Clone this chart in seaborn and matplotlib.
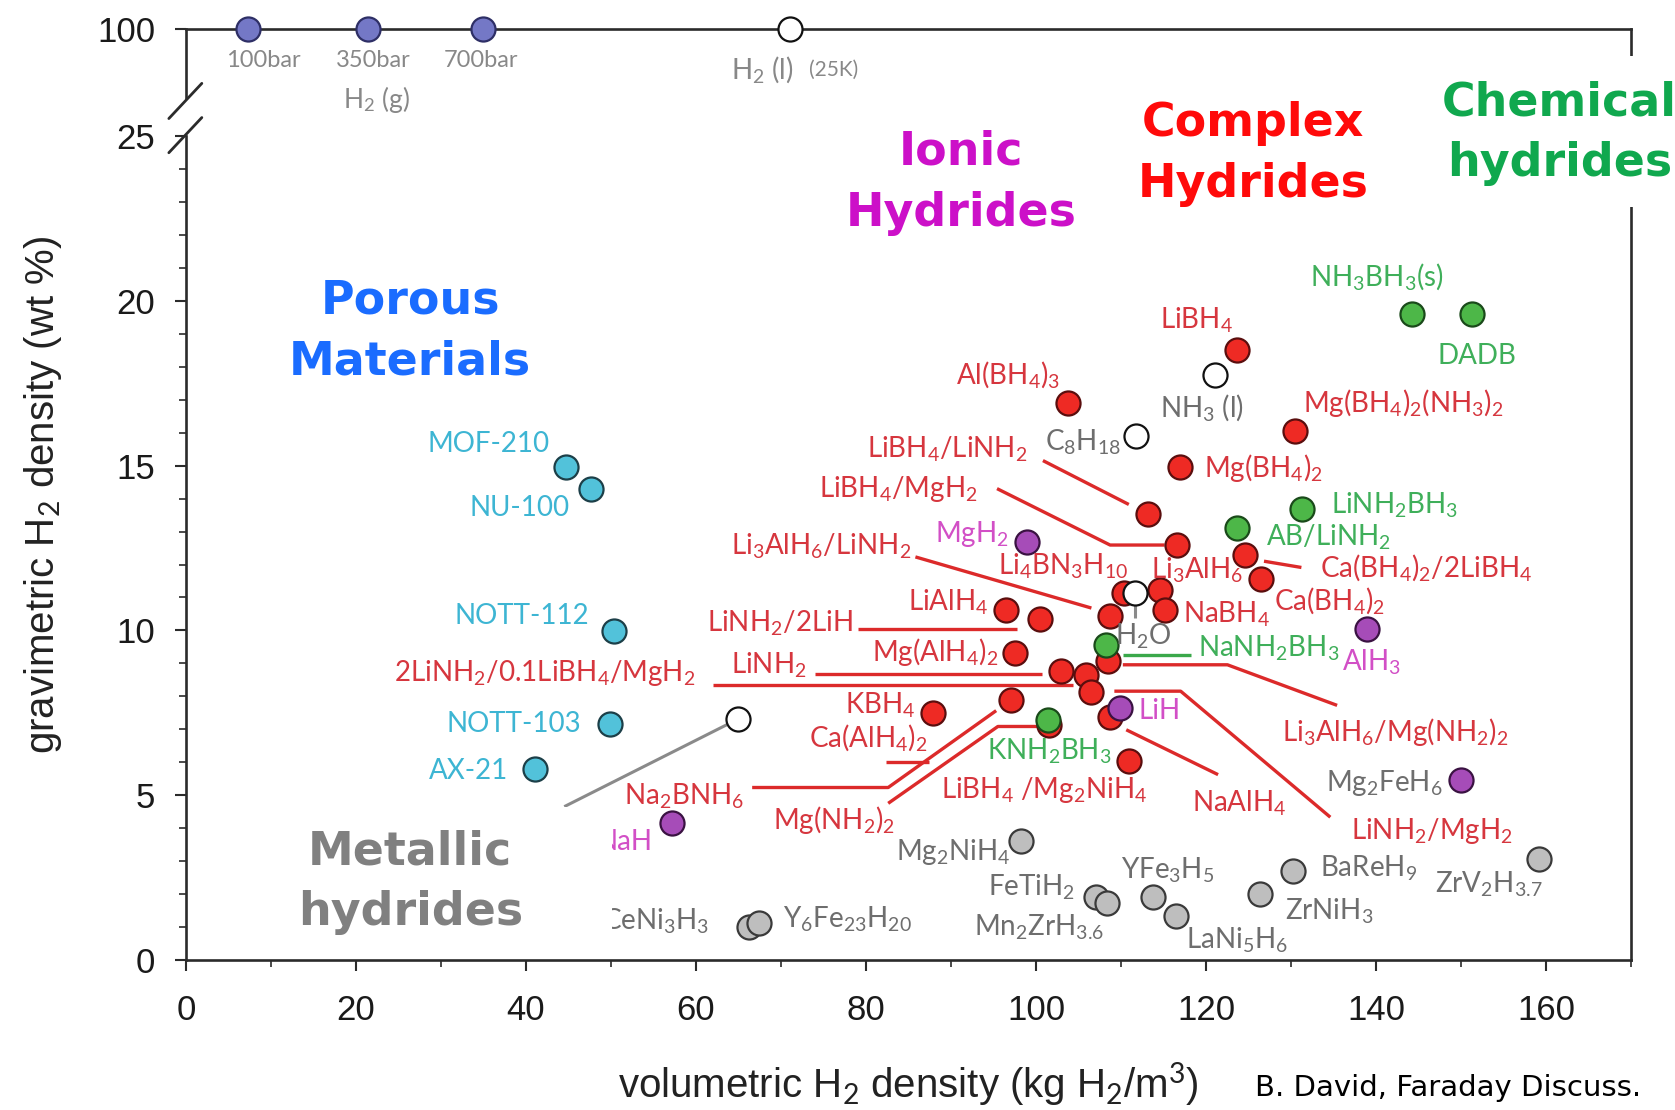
import numpy as np
import pandas as pd
import matplotlib
matplotlib.use("Agg")
import matplotlib.pyplot as plt
from matplotlib.lines import Line2D
from matplotlib.patches import Rectangle
import seaborn as sns

# ------------------------------------------------------------------
# Data: volumetric H2 density (kg H2/m^3) vs gravimetric density (wt %)
# ------------------------------------------------------------------
gas_names = ["100bar", "350bar", "700bar"]
gas_x = [7.3, 21.4, 34.9]
gas_y = [100, 100, 100]

liquid_h2_x = [71.0]
liquid_h2_y = [100]

porous_names = ["MOF-210", "NU-100", "NOTT-112", "NOTT-103", "AX-21"]
porous_x = [44.7, 47.6, 50.3, 49.9, 41.0]
porous_y = [14.95, 14.3, 9.97, 7.18, 5.79]

ionic_names = [r"MgH$_2$", r"AlH$_3$", "LiH", r"Mg$_2$FeH$_6$", "NaH"]
ionic_x = [98.9, 138.9, 109.9, 150.0, 57.2]
ionic_y = [12.69, 10.06, 7.64, 5.47, 4.17]

chemical_names = [r"NH$_3$BH$_3$(s)", "DADB", r"LiNH$_2$BH$_3$", r"AB/LiNH$_2$",
                  r"NaNH$_2$BH$_3$", r"KNH$_2$BH$_3$"]
chemical_x = [144.2, 151.3, 131.3, 123.6, 108.2, 101.4]
chemical_y = [19.58, 19.58, 13.69, 13.1, 9.55, 7.28]

complex_names = [r"LiBH$_4$", r"Al(BH$_4$)$_3$", r"Mg(BH$_4$)$_2$(NH$_3$)$_2$",
                 r"Mg(BH$_4$)$_2$", r"LiBH$_4$/LiNH$_2$", r"LiBH$_4$/MgH$_2$",
                 r"Ca(BH$_4$)$_2$/2LiBH$_4$", r"Ca(BH$_4$)$_2$", r"Li$_4$BN$_3$H$_{10}$",
                 r"Li$_3$AlH$_6$", r"NaBH$_4$", r"Li$_3$AlH$_6$/LiNH$_2$", r"LiAlH$_4$",
                 r"LiNH$_2$/2LiH", r"Mg(AlH$_4$)$_2$", r"Li$_3$AlH$_6$/Mg(NH$_2$)$_2$",
                 r"LiNH$_2$", r"2LiNH$_2$/0.1LiBH$_4$/MgH$_2$", r"LiNH$_2$/MgH$_2$",
                 r"Na$_2$BNH$_6$", r"KBH$_4$", r"NaAlH$_4$", r"Mg(NH$_2$)$_2$",
                 r"LiBH$_4$ /Mg$_2$NiH$_4$"]
complex_x = [123.6, 103.8, 130.5, 116.9, 113.2, 116.6, 124.6, 126.5, 110.3,
             114.6, 115.1, 108.7, 96.4, 100.4, 97.5, 108.4, 102.9, 105.9,
             106.5, 97.0, 87.9, 108.7, 101.5, 110.9]
complex_y = [18.5, 16.9, 16.05, 14.95, 13.53, 12.59, 12.3, 11.55, 11.13,
             11.23, 10.61, 10.45, 10.61, 10.36, 9.32, 9.09, 8.77, 8.64,
             8.12, 7.9, 7.5, 7.38, 7.12, 6.05]

metallic_names = [r"Mg$_2$NiH$_4$", r"FeTiH$_2$", r"Mn$_2$ZrH$_{3.6}$", r"YFe$_3$H$_5$",
                  r"LaNi$_5$H$_6$", r"ZrNiH$_3$", r"BaReH$_9$", r"ZrV$_2$H$_{3.7}$",
                  r"CeNi$_3$H$_3$", r"Y$_6$Fe$_{23}$H$_{20}$"]
metallic_x = [98.2, 107.0, 108.3, 113.8, 116.5, 126.3, 130.2, 159.1, 66.2, 67.4]
metallic_y = [3.62, 1.91, 1.75, 1.91, 1.36, 2.0, 2.72, 3.07, 1.0, 1.13]

liquid_names = [r"NH$_3$ (l)", r"C$_8$H$_{18}$", r"H$_2$O", ""]
liquid_x = [121.0, 111.7, 111.6, 64.9]
liquid_y = [17.73, 15.89, 11.13, 7.31]

x_ticks = [0, 20, 40, 60, 80, 100, 120, 140, 160]
y_ticks = [0, 5, 10, 15, 20, 25]

# ------------------------------------------------------------------
# Layout: label anchors (data coords, text centre) and leader lines
# ------------------------------------------------------------------
porous_label_xy = [(35.6, 15.66), (39.3, 13.72), (39.5, 10.45), (38.6, 7.18), (33.3, 5.73)]
ionic_label_xy = [(92.5, 12.91), (139.4, 9.03), (114.5, 7.57), (140.9, 5.37), (51.6, 3.59)]
chemical_label_xy = [(140.1, 20.74), (151.8, 18.32), (142.2, 13.79), (134.4, 12.82),
                     (127.3, 9.45), (101.6, 6.34)]
complex_label_xy = [(118.9, 19.39), (96.7, 17.77), (143.2, 16.89), (126.7, 14.92),
                    (89.6, 15.5), (83.8, 14.3), (145.9, 11.91), (134.5, 10.91),
                    (103.2, 11.94), (118.9, 11.84), (122.4, 10.49), (74.7, 12.56),
                    (89.7, 10.87), (69.9, 10.23), (88.1, 9.35), (142.2, 6.93),
                    (68.6, 8.96), (42.2, 8.71), (146.6, 3.92), (58.6, 4.98),
                    (81.7, 7.73), (123.9, 4.76), (76.2, 4.24), (100.9, 5.15)]
metallic_label_xy = [(90.2, 3.30), (99.5, 2.23), (100.3, 1.0), (115.5, 2.72),
                     (123.6, 0.61), (134.5, 1.49), (139.1, 2.78), (153.3, 2.30),
                     (55.2, 1.20), (77.8, 1.26)]
liquid_label_xy = [(119.5, 16.76), (105.5, 15.70), (112.6, 9.84), (0, 0)]

red_leaders = [
    [(100.8, 15.15), (110.9, 13.82)],
    [(95.4, 14.3), (108.7, 12.59), (115.1, 12.59)],
    [(85.8, 12.23), (106.5, 10.68)],
    [(79.1, 10.03), (97.8, 10.03)],
    [(74.0, 8.67), (100.7, 8.67)],
    [(62.0, 8.35), (104.3, 8.35)],
    [(66.6, 5.24), (82.6, 5.24), (95.3, 7.57)],
    [(82.6, 4.76), (95.5, 7.09), (100.1, 7.09)],
    [(82.3, 6.02), (87.4, 6.02)],
    [(126.8, 12.1), (131.2, 11.91)],
    [(110.2, 8.96), (122.5, 8.96), (135.4, 7.73)],
    [(109.2, 8.16), (117.0, 8.16), (134.6, 4.34)],
    [(110.6, 6.99), (121.4, 5.63)],
]
green_leaders = [[(110.2, 9.26), (118.2, 9.26)]]
gray_leaders = [[(111.6, 10.81), (111.6, 10.39)], [(64.9, 7.31), (44.5, 4.66)]]

# ------------------------------------------------------------------
sns.set_theme(style="ticks")
plt.rcParams["font.family"] = ["Liberation Sans", "DejaVu Sans"]
plt.rcParams["mathtext.fontset"] = "custom"
plt.rcParams["mathtext.rm"] = "Lato"
plt.rcParams["mathtext.it"] = "Lato:italic"
plt.rcParams["mathtext.bf"] = "Lato:bold"

SPINE = "#2b2b2b"
LABEL_FONT = ["Lato", "DejaVu Sans"]

fig = plt.figure(figsize=(16.75, 11.10), dpi=100)
ax = fig.add_axes([0.1110, 0.1348, 0.8629, 0.7430])
ax_top = fig.add_axes([0.1110, 0.9115, 0.8629, 0.0625])

for a in (ax, ax_top):
    a.set_facecolor("white")
    for s in a.spines.values():
        s.set_color(SPINE)
        s.set_linewidth(1.9)

# main axes
ax.set_xlim(0, 170)
ax.set_ylim(0, 25)
ax.spines["top"].set_visible(False)
ax.set_xticks(x_ticks)
ax.set_xticks(np.arange(0, 171, 10), minor=True)
ax.set_yticks(y_ticks)
ax.set_yticks(np.arange(0, 26, 1), minor=True)
ax.tick_params(axis="both", which="major", direction="out", length=8, width=1.5,
               color=SPINE, labelsize=25, labelcolor="#1a1a1a")
ax.tick_params(axis="both", which="minor", direction="out", length=5, width=1.2, color=SPINE)
ax.tick_params(axis="x", pad=16)
ax.tick_params(axis="y", pad=14)

# upper strip holding the y = 100 wt % line
ax_top.set_xlim(0, 170)
ax_top.set_ylim(0, 100)
ax_top.spines["bottom"].set_visible(False)
ax_top.set_xticks([])
ax_top.set_yticks([100])
ax_top.tick_params(axis="y", direction="out", length=8, width=1.5, color=SPINE,
                   labelsize=25, labelcolor="#1a1a1a", pad=14)


def draw_group(target, xs, ys, face, edge, z):
    df = pd.DataFrame({"x": xs, "y": ys})
    sns.scatterplot(data=df, x="x", y="y", ax=target, s=300, color=face,
                    edgecolor=edge, linewidth=1.6, zorder=z, legend=False, clip_on=False)


def draw_labels(names, positions, color, size=20):
    for name, (lx, ly) in zip(names, positions):
        if name:
            ax.text(lx, ly, name, color=color, fontsize=size, family=LABEL_FONT,
                    ha="center", va="center", zorder=3.5)


# leader lines
for seg in red_leaders:
    xs, ys = zip(*seg)
    ax.plot(xs, ys, color="#dc2a2a", lw=2.4, solid_capstyle="butt", zorder=2)
for seg in green_leaders:
    xs, ys = zip(*seg)
    ax.plot(xs, ys, color="#3aa84a", lw=2.4, solid_capstyle="butt", zorder=2)
for seg in gray_leaders:
    xs, ys = zip(*seg)
    ax.plot(xs, ys, color="#8a8a8a", lw=2.2, solid_capstyle="butt", zorder=2)

# markers
draw_group(ax, complex_x, complex_y, "#ee2a24", "#5a0e0e", 3)
draw_group(ax, ionic_x, ionic_y, "#a64cb8", "#3a1242", 3.1)
draw_group(ax, chemical_x, chemical_y, "#4db748", "#1a4a1a", 3.1)
draw_group(ax, liquid_x, liquid_y, "white", "#111111", 3.2)
draw_group(ax, metallic_x, metallic_y, "#bebebe", "#3a3a3a", 3)
draw_group(ax, porous_x, porous_y, "#52c2da", "#1c3f48", 3)
draw_group(ax_top, gas_x, gas_y, "#7478c6", "#2e2f66", 3)
draw_group(ax_top, liquid_h2_x, liquid_h2_y, "white", "#111111", 3)
for a in (ax, ax_top):
    a.set_xlabel("")
    a.set_ylabel("")

# point labels
draw_labels(porous_names, porous_label_xy, "#3db5d3")
draw_labels(ionic_names, ionic_label_xy, "#d24fc6")
ax.texts[-2].set_color("#6e6e6e")  # Mg2FeH6 label is grey
draw_labels(chemical_names, chemical_label_xy, "#3faf5a")
draw_labels(complex_names, complex_label_xy, "#d6363e")
draw_labels([r"Ca(AlH$_4$)$_2$"], [(80.2, 6.76)], "#d6363e")
draw_labels(metallic_names, metallic_label_xy, "#6e6e6e")
draw_labels(liquid_names, liquid_label_xy, "#6e6e6e")

# labels on the 100 wt % strip
for name, gx in zip(gas_names, [9.05, 22.0, 34.7]):
    ax_top.text(gx, 53.8, name, color="#888888", fontsize=17, family=LABEL_FONT,
                ha="center", va="center")
ax_top.text(22.4, -1.5, r"H$_2$ (g)", color="#888888", fontsize=19, family=LABEL_FONT,
            ha="center", va="center")
ax_top.text(67.8, 41.5, r"H$_2$ (l)", color="#888888", fontsize=20, family=LABEL_FONT,
            ha="center", va="center")
ax_top.text(76.2, 41.5, "(25K)", color="#888888", fontsize=15, family=LABEL_FONT,
            ha="center", va="center")

# axis break marks on the left spine
for (x0, y0, x1, y1) in [(0.1008, 0.8932, 0.1205, 0.9249), (0.1008, 0.8624, 0.1205, 0.8941)]:
    fig.add_artist(Line2D([x0, x1], [y0, y1], transform=fig.transFigure,
                          color=SPINE, lw=2.0))

# class headings
CLASS_FONT = ["DejaVu Sans"]
ax.add_patch(Rectangle((12.1, 0.13), 38.0, 4.53, facecolor="white", edgecolor="none", zorder=4))
fig.add_artist(Rectangle((0.861, 0.8133), 0.16, 0.136, transform=fig.transFigure,
                         facecolor="white", edgecolor="none", zorder=5))
headings = [
    ("Porous\nMaterials", 0.2449, 0.7016, "#1a6cff"),
    ("Metallic\nhydrides", 0.2449, 0.2050, "#808080"),
    ("Ionic\nHydrides", 0.5740, 0.8354, "#cc10c8"),
    ("Complex\nHydrides", 0.7481, 0.8614, "#ff0a0a"),
    ("Chemical\nhydrides", 0.9311, 0.8797, "#10a84e"),
]
for txt, fx, fy, col in headings:
    fig.text(fx, fy, txt, color=col, fontsize=33, fontweight="bold", family=CLASS_FONT,
             ha="center", va="center", linespacing=1.45, zorder=6)

# axis titles and source note
fig.text(0.0255, 0.5544, r"gravimetric H$_2$ density (wt %)", rotation=90, fontsize=29,
         color="#222222", ha="center", va="center")
fig.text(0.542, 0.0231, r"volumetric H$_2$ density (kg H$_2$/m$^3$)", fontsize=29,
         color="#222222", ha="center", va="center")
fig.text(0.7490, 0.0202, "B. David, Faraday Discuss.", fontsize=21, family=["DejaVu Sans"],
         color="black", ha="left", va="center")

fig.savefig("out.png", dpi=100, facecolor="white")
